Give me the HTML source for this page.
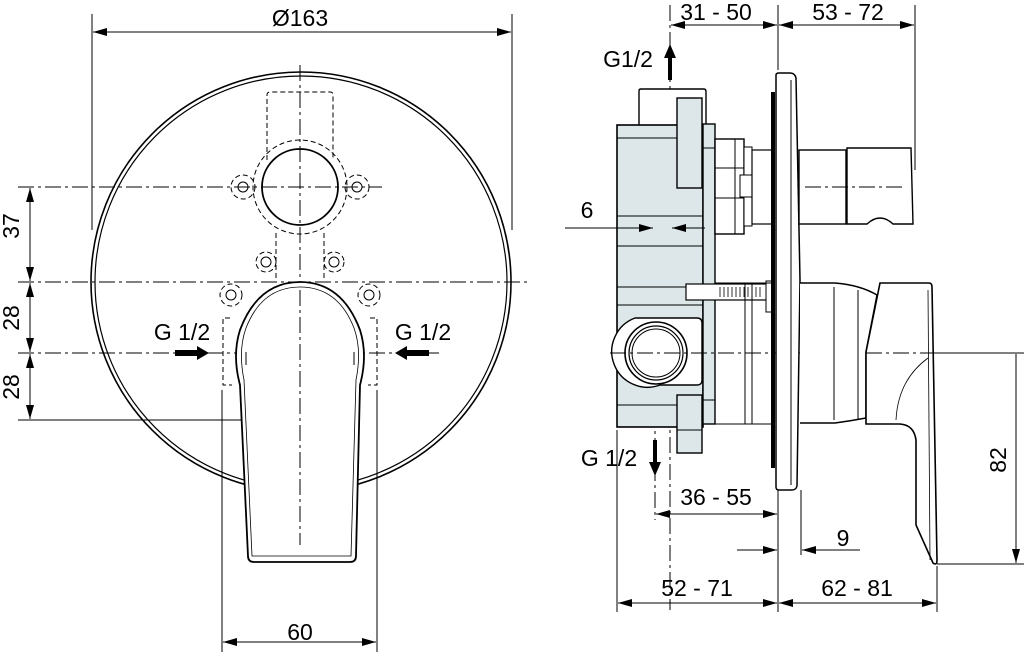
<!DOCTYPE html>
<html><head><meta charset="utf-8"><style>
html,body{margin:0;padding:0;background:#fff;}
svg{display:block;}
text{font-family:"Liberation Sans",Arial,sans-serif;font-size:23px;fill:#000;}
</style></head><body>
<svg width="1024" height="655" viewBox="0 0 1024 655" xmlns="http://www.w3.org/2000/svg">
<defs>
<marker id="a" viewBox="0 0 14 8" refX="14" refY="4" markerWidth="14" markerHeight="8" orient="auto-start-reverse" markerUnits="userSpaceOnUse"><path d="M0,0 L14,4 L0,8 z" fill="#000"/></marker>
</defs>
<g fill="none" stroke="#000" stroke-width="1">
<line x1="92" y1="14" x2="92" y2="230"/>
<line x1="512" y1="14" x2="512" y2="230"/>
<line x1="93" y1="32" x2="511" y2="32" marker-start="url(#a)" marker-end="url(#a)"/>
<g stroke-dasharray="16,4,3,4">
<line x1="18" y1="187" x2="382" y2="187"/>
<line x1="18" y1="282" x2="530" y2="282"/>
<line x1="18" y1="353" x2="440" y2="353"/>
<line x1="300" y1="65" x2="300" y2="545"/>
</g>
<line x1="18" y1="420" x2="262" y2="420"/>
<line x1="30" y1="188" x2="30" y2="281" marker-start="url(#a)" marker-end="url(#a)"/>
<line x1="30" y1="283" x2="30" y2="352" marker-start="url(#a)" marker-end="url(#a)"/>
<line x1="30" y1="354" x2="30" y2="419" marker-start="url(#a)" marker-end="url(#a)"/>
<circle cx="301" cy="282" r="210" stroke-width="1.6"/>
<circle cx="301" cy="282" r="206" stroke-width="1.2"/>
<g stroke-dasharray="5,3">
<path d="M267,160 V95 Q267,92 270,92 H330 Q333,92 333,95 V160"/>
<circle cx="300" cy="187" r="47"/>
<path d="M276,233 V280 M324,233 V280"/>
<circle cx="243" cy="187" r="12"/><circle cx="357" cy="187" r="12"/>
<circle cx="266" cy="262" r="10"/><circle cx="334" cy="262" r="10"/>
<circle cx="231" cy="295" r="11"/><circle cx="369" cy="295" r="11"/>
<path d="M230,318 H223 V385 H232 M370,318 H377 V385 H368"/>
<path d="M263,400 V417 Q263,420 266,420 H334 Q337,420 337,417 V400"/>
</g>
<circle cx="243" cy="187" r="5"/><circle cx="357" cy="187" r="5"/>
<circle cx="266" cy="262" r="5"/><circle cx="334" cy="262" r="5"/>
<circle cx="231" cy="295" r="5"/><circle cx="369" cy="295" r="5"/>
<circle cx="300" cy="187" r="38" stroke-width="1.8"/>
<path d="M240,385 Q232,355 240,330 Q258,282 300,282 Q342,282 360,330 Q368,355 360,385 L356,556 Q356,562 350,562 H254 Q248,562 248,556 Z" fill="#fff" stroke-width="1.8"/>
<path d="M244,380 Q238,350 246,328 Q262,287 300,287 Q338,287 354,328 Q362,350 356,380 L351,556 H252 Z" stroke-width="0.8"/>
<line x1="300" y1="290" x2="300" y2="545" stroke-dasharray="16,4,3,4"/>
<line x1="246" y1="352" x2="246" y2="365"/><line x1="354" y1="352" x2="354" y2="365"/>
<line x1="222" y1="390" x2="222" y2="652"/>
<line x1="377" y1="390" x2="377" y2="652"/>
<line x1="223" y1="642" x2="376" y2="642" marker-start="url(#a)" marker-end="url(#a)"/>

<line x1="670" y1="5" x2="670" y2="610" stroke-dasharray="16,4,3,4"/>
<line x1="655" y1="330" x2="655" y2="520" stroke-dasharray="16,4,3,4"/>
<line x1="778" y1="5" x2="778" y2="70"/>
<line x1="915" y1="5" x2="915" y2="170"/>
<line x1="671" y1="25" x2="777" y2="25" marker-start="url(#a)" marker-end="url(#a)"/>
<line x1="779" y1="25" x2="914" y2="25" marker-start="url(#a)" marker-end="url(#a)"/>
<path d="M639,125 V91 Q639,89 641,89 H704 Q706,89 706,92 V125" fill="#fff" stroke-width="1.4"/>
<rect x="617" y="125" width="86" height="302" fill="#dde6e9" stroke-width="1.6"/>
<rect x="703" y="124" width="12" height="300" fill="#dde6e9" stroke-width="1.4"/>
<rect x="677" y="98" width="25" height="90" fill="#dde6e9" stroke-width="1.4"/>
<rect x="677" y="395" width="25" height="58" fill="#dde6e9" stroke-width="1.4"/>
<path d="M617,138 H677 M617,216 H703 M617,246 H703 M617,287 H703 M617,305 H703 M617,405 H677 M703,148 H715 M703,400 H715 M677,430 H702"/>
<path d="M635,318 H697 Q702,318 702,323 V380 Q702,385 697,385 H660 A33,33 0 0 1 635,318 Z" fill="#fff" stroke-width="1.4"/>
<circle cx="656" cy="353" r="31" stroke-width="1.6"/>
<circle cx="656" cy="353" r="27" stroke-width="1.2"/>
<circle cx="656" cy="353" r="24"/>
<line x1="610" y1="353" x2="1024" y2="353" stroke-dasharray="16,4,3,4"/>
<rect x="715" y="139" width="29" height="95" fill="#fff" stroke-width="1.4"/>
<rect x="744" y="147" width="8" height="79" fill="#fff"/>
<rect x="740" y="175" width="14" height="22" fill="#fff"/>
<path d="M715,168 H744 M715,198 H744 M735,139 V234"/>
<rect x="752" y="150" width="20" height="74" fill="#fff" stroke-width="1.2"/>
<rect x="686" y="284" width="88" height="16" fill="#fff" stroke-width="1.2"/>
<path d="M720,287 V297 M724,287 V297 M728,287 V297 M732,287 V297 M736,287 V297 M740,287 V297 M744,287 V297 M748,287 V297 M752,287 V297 M756,287 V297 M760,287 V297" stroke-width="0.8"/>
<rect x="766" y="281" width="6" height="31" fill="#fff"/>
<path d="M715,283 H745 V424 H715 M745,283 H752 V424 H745 M752,283 H772 M752,424 H772"/>
<rect x="771" y="92" width="4" height="376" fill="#000" stroke="none"/>
<path d="M776,75 Q776,73 779,73 H790 Q795,73 796,78 L800,280 L797,486 Q796,490 792,490 H779 Q776,490 776,487 Z" fill="#fff" stroke-width="1.5"/>
<line x1="791" y1="80" x2="791" y2="485"/>
<rect x="799" y="150" width="47" height="74" fill="#fff" stroke-width="1.4"/>
<path d="M847,148 H911 L913,224 H893 Q880,212 867,224 H847 Z" fill="#fff" stroke-width="1.4"/>
<line x1="805" y1="187" x2="905" y2="187" stroke-dasharray="16,4,3,4"/>
<path d="M800,283 H835 Q860,285 877,295 L866,352 V418 Q850,421 835,423 H800" fill="#fff" stroke-width="1.5"/>
<path d="M834,287 V420 M858,290 V420"/>
<path d="M880,283 H929 Q932,283 932,287 L937,560 Q937,566 933,563 L916,525 V440 Q914,425 900,424 H866 V352 Z" fill="#fff" stroke-width="1.6"/>
<path d="M896,420 Q898,380 928,358" stroke-width="0.8"/>
<line x1="928" y1="290" x2="930" y2="560" stroke-width="0.8"/>
<line x1="866" y1="353" x2="1024" y2="353" stroke-dasharray="16,4,3,4"/>
<line x1="617" y1="430" x2="617" y2="612"/>
<line x1="778" y1="490" x2="778" y2="612"/>
<line x1="801" y1="490" x2="801" y2="555"/>
<line x1="937" y1="566" x2="937" y2="612"/>
<line x1="656" y1="514" x2="777" y2="514" marker-start="url(#a)" marker-end="url(#a)"/>
<line x1="737" y1="550" x2="777" y2="550" marker-end="url(#a)"/>
<line x1="860" y1="550" x2="802" y2="550" marker-end="url(#a)"/>
<line x1="618" y1="603" x2="777" y2="603" marker-start="url(#a)" marker-end="url(#a)"/>
<line x1="779" y1="603" x2="936" y2="603" marker-start="url(#a)" marker-end="url(#a)"/>
<line x1="937" y1="564" x2="1024" y2="564"/>
<line x1="1016" y1="354" x2="1016" y2="563" marker-end="url(#a)"/>
<line x1="565" y1="228" x2="653" y2="228" marker-end="url(#a)"/>
<line x1="705" y1="228" x2="672" y2="228" marker-end="url(#a)"/>
</g>
<g fill="#000">
<path d="M668,80 V58 H664 L670,44 L676,58 H672 V80 Z"/>
<path d="M653,440 V462 H649 L655,476 L661,462 H657 V440 Z"/>
<path d="M175,350 H197 V346 L209,353 L197,360 V356 H175 Z"/>
<path d="M429,350 H407 V346 L395,353 L407,360 V356 H429 Z"/>
</g>
<text x="300" y="26" text-anchor="middle">Ø163</text>
<text transform="translate(19,226) rotate(-90)" text-anchor="middle">37</text>
<text transform="translate(19,318) rotate(-90)" text-anchor="middle">28</text>
<text transform="translate(19,387) rotate(-90)" text-anchor="middle">28</text>
<text x="182" y="340" text-anchor="middle">G 1/2</text>
<text x="423" y="340" text-anchor="middle">G 1/2</text>
<text x="300" y="640" text-anchor="middle">60</text>
<text x="716" y="20" text-anchor="middle">31 - 50</text>
<text x="848" y="20" text-anchor="middle">53 - 72</text>
<text x="628" y="67" text-anchor="middle">G1/2</text>
<text x="587" y="218" text-anchor="middle">6</text>
<text x="609" y="466" text-anchor="middle">G 1/2</text>
<text x="716" y="505" text-anchor="middle">36 - 55</text>
<text x="843" y="546" text-anchor="middle">9</text>
<text x="697" y="596" text-anchor="middle">52 - 71</text>
<text x="857" y="596" text-anchor="middle">62 - 81</text>
<text transform="translate(1006,460) rotate(-90)" text-anchor="middle">82</text>
</svg>
</body></html>
